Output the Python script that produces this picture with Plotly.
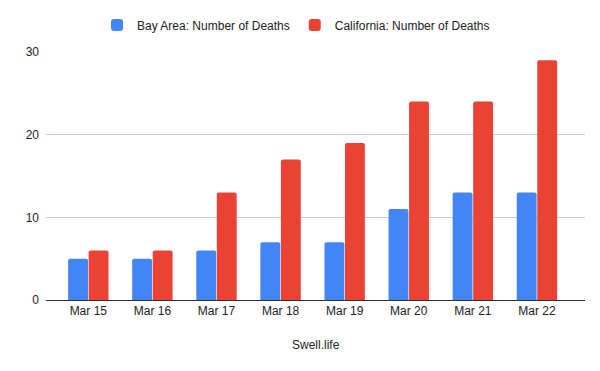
import plotly.graph_objects as go

categories = ["Mar 15", "Mar 16", "Mar 17", "Mar 18", "Mar 19", "Mar 20", "Mar 21", "Mar 22"]
bay_area = [5, 5, 6, 7, 7, 11, 13, 13]
california = [6, 6, 13, 17, 19, 24, 24, 29]

fig = go.Figure()
fig.add_trace(go.Bar(x=categories, y=bay_area, name="Bay Area: Number of Deaths",
                     marker=dict(color="#4285f4", line=dict(width=0))))
fig.add_trace(go.Bar(x=categories, y=california, name="California: Number of Deaths",
                     marker=dict(color="#ea4335", line=dict(width=0))))

fig.update_layout(
    width=600, height=371,
    margin=dict(l=38, r=23, t=44, b=79, autoexpand=False),
    paper_bgcolor="white", plot_bgcolor="white",
    font=dict(family="Liberation Sans, Arial, sans-serif", size=12, color="#222222"),
    barmode="group", bargap=0.36, bargroupgap=0.03, barcornerradius=2,
    legend=dict(orientation="h", x=0.48, xanchor="center", y=1 - 17 / 371, yanchor="middle",
                yref="container", xref="container", font=dict(size=12, color="#222222")),
    showlegend=True,
    annotations=[dict(text="Swell.life", xref="paper", yref="paper", x=0.5, y=-0.181,
                      showarrow=False, yanchor="middle", font=dict(size=12, color="#222222"))],
)
fig.update_xaxes(range=[-0.66, 7.75], showgrid=False, showline=True, linecolor="#333333", linewidth=1,
                 ticks="", automargin=False, tickfont=dict(size=12, color="#222222"))
fig.update_yaxes(range=[0, 30], tickvals=[0, 10, 20, 30], showgrid=True, gridcolor="#cccccc",
                 zeroline=False, showline=False, ticks="", automargin=False,
                 tickfont=dict(size=12, color="#222222"), ticklabelstandoff=6)

fig.write_html("out.html")
